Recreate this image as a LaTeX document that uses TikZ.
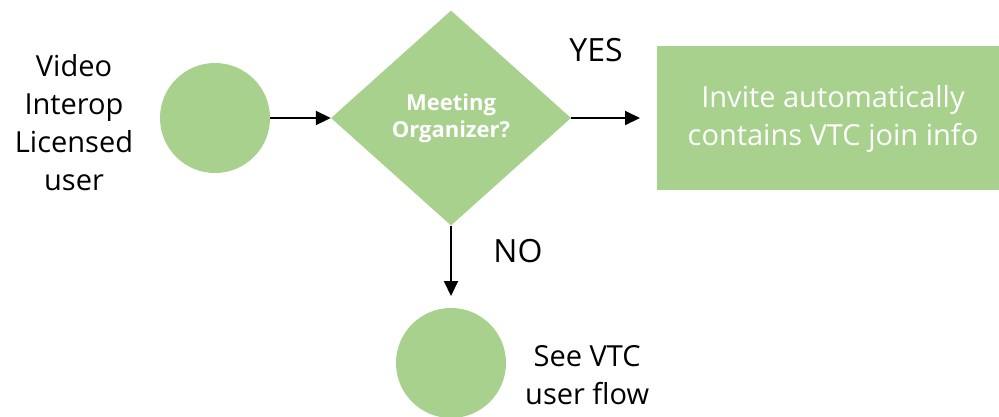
\documentclass[tikz,border=0pt]{standalone}
\usepackage{fontspec}
\setmainfont{Open Sans}
\usetikzlibrary{shapes.geometric,arrows.meta}
\definecolor{lgreen}{HTML}{A9D18E}
\begin{document}
\begin{tikzpicture}[x=1pt,y=-1pt,
  big/.style={font=\fontsize{29}{38}\selectfont, align=center, inner sep=0pt},
  greencircle/.style={circle, fill=lgreen, minimum size=110pt, inner sep=0pt},
  flow/.style={line width=2pt, -{Triangle[length=15pt,width=14pt]}}]
\useasboundingbox (0,0) rectangle (999,416);
\node[greencircle] (c1) at (215,118) {};
\node[big] (lbl1) at (74,123) {Video\\Interop\\Licensed\\user};
\node[diamond, fill=lgreen, minimum width=240pt, minimum height=215pt, inner sep=0pt,
      text=white, font=\bfseries\fontsize{22}{27}\selectfont, align=center] (d) at (451,118) {Meeting\\Organizer?};
\node[rectangle, fill=lgreen, minimum width=342pt, minimum height=144pt, inner sep=0pt] (r) at (828,118) {};
\node[big, text=white] (rt) at (833,119) {Invite automatically\\contains VTC join info};
\node[greencircle] (c2) at (451,363) {};
\node[big, font=\fontsize{32}{38}\selectfont] (yes) at (596,50) {YES};
\node[big, font=\fontsize{32}{38}\selectfont] (no) at (518,251) {NO};
\node[big, anchor=west] (see) at (525,375) {See VTC\\user flow};
\coordinate (a2end) at (640,118);
\coordinate (a3end) at (451,296);
\draw[flow] (c1.east) -- (d.west);
\draw[flow] (d.east) -- (a2end);
\draw[flow] (d.south) -- (a3end);
\end{tikzpicture}
\end{document}
